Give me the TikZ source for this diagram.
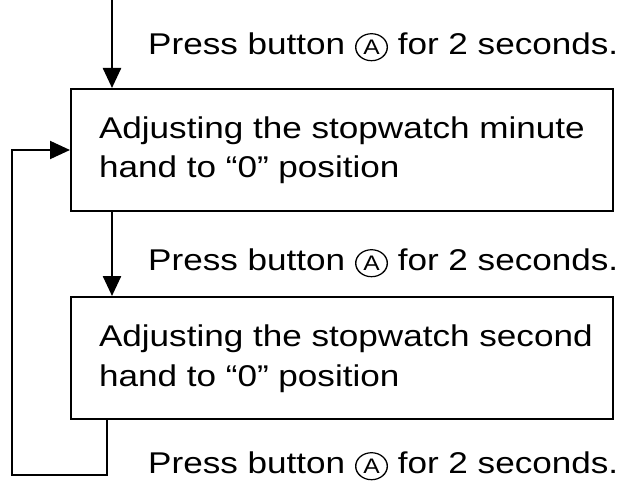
\documentclass[tikz,border=0pt]{standalone}
\usepackage{fontspec}
\setmainfont{Liberation Sans}
\usetikzlibrary{arrows.meta,positioning}
\newcommand{\btnA}{\tikz[baseline=(btn.base)]\node[circle,draw,line width=1.2pt,inner sep=1.5pt,
  minimum size=27pt,font=\fontsize{21}{21}\selectfont] (btn) {A};}
\newcommand{\wide}[1]{\scalebox{1.17}[1]{#1}}
\begin{document}
\begin{tikzpicture}[x=1pt,y=-1pt,
    every node/.style={font=\fontsize{30}{40}\selectfont},
    stepbox/.style={draw,line width=2pt,minimum width=542pt,minimum height=122pt,
      inner xsep=28pt,inner ysep=0pt,anchor=north west},
    flow/.style={line width=2.5pt,-{Triangle[length=20pt,width=18pt]}},
    lbl/.style={anchor=west,inner sep=0pt}]
\useasboundingbox (0,0) rectangle (624,487);
    %boxes
    \node[stepbox] (minute) at (70,88) {\makebox[486pt][l]{\wide{\begin{tabular}{@{}l@{}}Adjusting the stopwatch minute\\hand to “0” position\end{tabular}}}};
    \node[stepbox] (second) at (70,296) {\makebox[486pt][l]{\wide{\begin{tabular}{@{}l@{}}Adjusting the stopwatch second\\hand to “0” position\end{tabular}}}};

    %free ends of the loop
    \coordinate (start) at (112,0);
    \coordinate (down) at (107,475);
    \coordinate (corner) at (12,475);

    %labels
    \node[lbl] (press1) at (148,47) {\wide{Press button \btnA{} for 2 seconds.}};
    \node[lbl] (press2) at (148,263) {\wide{Press button \btnA{} for 2 seconds.}};
    \node[lbl] (press3) at (148,466) {\wide{Press button \btnA{} for 2 seconds.}};

    %arrows
    \draw[flow] (start) -- (start |- minute.north);
    \draw[flow] (start |- minute.south) -- (start |- second.north);
    \draw[flow,line width=2pt] (down |- second.south) -- (down) -- (corner)
        |- (minute.west);
\end{tikzpicture}
\end{document}
